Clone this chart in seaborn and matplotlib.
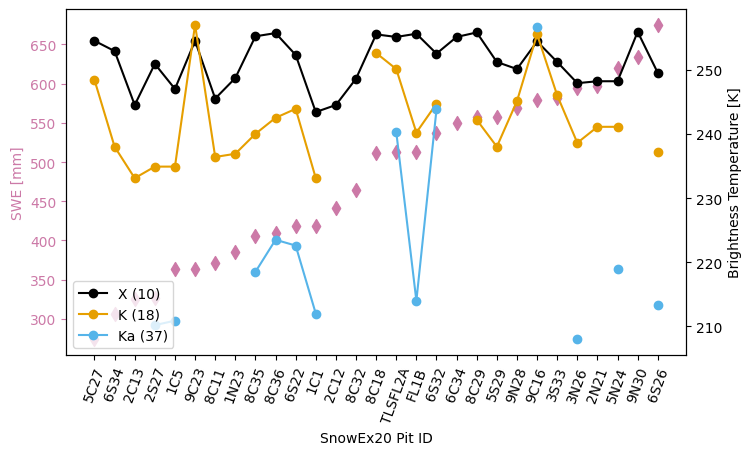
import numpy as np
import pandas as pd
import matplotlib
matplotlib.use("Agg")
import matplotlib.pyplot as plt
import seaborn as sns

pits = ["5C27", "6S34", "2C13", "2S27", "1C5", "9C23", "8C11", "1N23", "8C35", "8C36",
        "6S22", "1C1", "2C12", "8C32", "8C18", "TLSFL2A", "FL1B", "6S32", "6C34", "8C29",
        "5S29", "9N28", "9C16", "3S33", "3N26", "2N21", "5N24", "9N30", "6S26"]

swe = [274, 306, 325, 327, 364, 364, 371, 385, 406, 410,
       419, 419, 442, 464, 511, 513, 513, 537, 550, 558,
       558, 569, 579, 581, 595, 597, 620, 634, 675]

nan = np.nan
tb_x = [254.5, 252.9, 244.5, 250.9, 247.0, 254.5, 245.5, 248.7, 255.2, 255.7,
        252.3, 243.4, 244.5, 248.6, 255.5, 255.1, 255.6, 252.5, 255.1, 255.8,
        251.2, 250.1, 254.4, 251.2, 247.9, 248.2, 248.2, 255.9, 249.5]
tb_k = [248.4, 238.0, 233.1, 234.9, 234.9, 257.0, 236.4, 236.9, 240.0, 242.5,
        243.9, 233.1, nan, nan, 252.6, 250.1, 240.2, 244.7, nan, 242.2,
        238.0, 245.1, 255.5, 246.0, 238.6, 241.1, 241.1, nan, 237.2]
tb_ka = [nan, nan, nan, 210.2, 210.9, nan, nan, nan, 218.5, 223.5,
         222.6, 212.0, nan, nan, nan, 240.3, 214.0, 243.8, nan, nan,
         nan, nan, 256.7, nan, 208.0, nan, 219.0, nan, 213.3]

series_names = ["X (10)", "K (18)", "Ka (37)"]
series_vals = [tb_x, tb_k, tb_ka]
series_colors = ["black", "#E69F00", "#56B4E9"]
swe_color = "#CC79A7"

fig = plt.figure(figsize=(7.51, 4.56), dpi=100)
ax1 = fig.add_axes([0.0883, 0.2193, 0.8251, 0.7587])

df = pd.DataFrame({"pit": pits, "swe": swe})
sns.scatterplot(data=df, x="pit", y="swe", marker="d", color=swe_color, s=50,
                edgecolor=swe_color, linewidth=1, ax=ax1, legend=False)
ax1.set_ylabel("SWE [mm]", color=swe_color, fontsize=10)
ax1.set_xlabel("SnowEx20 Pit ID", fontsize=10)
ax1.tick_params(axis="y", colors=swe_color)
ax1.tick_params(axis="x", rotation=70)
n = len(pits)
ax1.set_xlim(-0.05 * (n - 1), (n - 1) * 1.05)

ax2 = ax1.twinx()
xpos = np.arange(n)
for name, vals, col in zip(series_names, series_vals, series_colors):
    ax2.plot(xpos, vals, marker="o", color=col, label=name, lw=1.5, ms=6)
ax2.set_ylabel("Brightness Temperature [K]", fontsize=10)
ax2.legend(loc="lower left", fontsize=10)
ax1.spines["left"].set_color("black")

fig.savefig("out.png", dpi=100)
